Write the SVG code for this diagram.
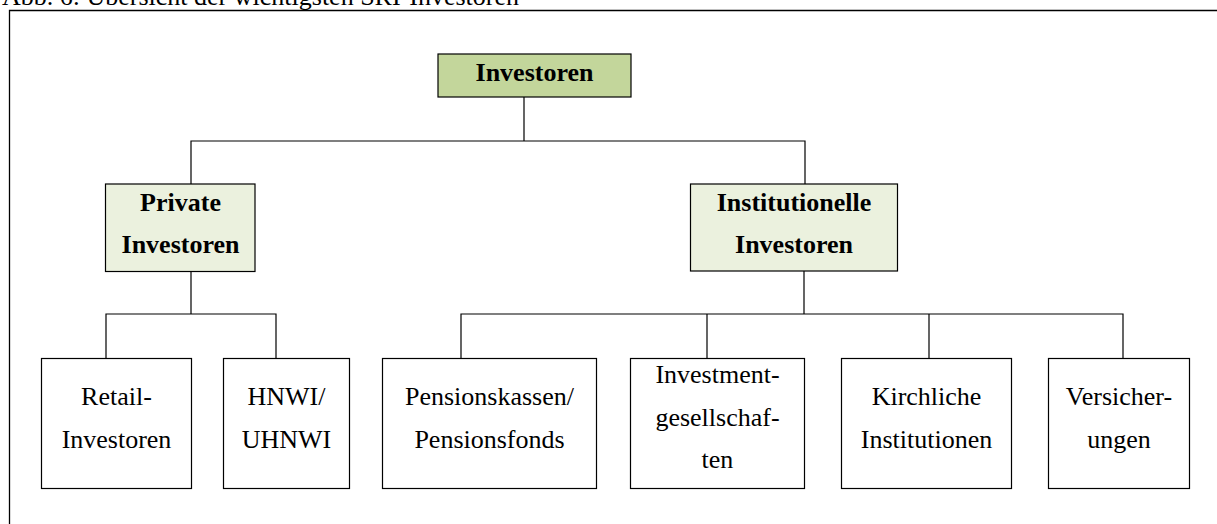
<svg xmlns="http://www.w3.org/2000/svg" width="1217" height="524" viewBox="0 0 1217 524">
<style>
.t{font-family:"Liberation Serif","Times New Roman",serif;font-size:26px;fill:#000;text-anchor:middle}
.b{font-weight:bold}
.box{fill:#fff;stroke:#000;stroke-width:1.2}
.l1{fill:#c3d69b;stroke:#000;stroke-width:1.2}
.l2{fill:#ebf1de;stroke:#000;stroke-width:1.2}
.c{fill:none;stroke:#000;stroke-width:1.2}
</style>
<rect width="1217" height="524" fill="#fff"/>
<text x="2" y="4.5" class="t" style="text-anchor:start">Abb. 6: Übersicht der wichtigsten SRI-Investoren</text>
<path d="M9.5 524 V10.5 H1217" fill="none" stroke="#000" stroke-width="1.3"/>
<g id="connectors">
<path class="c" d="M524 97 V141 M191 184 V141 H805 V184"/>
<path class="c" d="M191 272 V314 M106 358 V314 H276 V358"/>
<path class="c" d="M804 271 V314 M461 358 V314 H1123 V358 M707 314 V358 M929 314 V358"/>
</g>
<g id="n-investoren"><rect class="l1" x="438" y="54" width="193" height="43"/><text class="t b" x="534.5" y="81">Investoren</text></g>
<g id="n-private"><rect class="l2" x="105.5" y="184" width="149.5" height="87.5"/><text class="t b" x="180.5" y="211">Private</text><text class="t b" x="180.5" y="253">Investoren</text></g>
<g id="n-institutionelle"><rect class="l2" x="690.5" y="184" width="207" height="87"/><text class="t b" x="794" y="210.5">Institutionelle</text><text class="t b" x="794" y="253">Investoren</text></g>
<g id="n-retail"><rect class="box" x="41.5" y="358.5" width="150" height="130"/><text class="t" x="116.5" y="405">Retail-</text><text class="t" x="116.5" y="447.5">Investoren</text></g>
<g id="n-hnwi"><rect class="box" x="223.5" y="358.5" width="126" height="130"/><text class="t" x="286.5" y="405">HNWI/</text><text class="t" x="286.5" y="447.5">UHNWI</text></g>
<g id="n-pension"><rect class="box" x="382.5" y="358.5" width="214" height="130"/><text class="t" x="489.5" y="405">Pensionskassen/</text><text class="t" x="489.5" y="447.5">Pensionsfonds</text></g>
<g id="n-investment"><rect class="box" x="630.5" y="358.5" width="174" height="130"/><text class="t" x="717.5" y="383">Investment-</text><text class="t" x="717.5" y="425.5">gesellschaf-</text><text class="t" x="717.5" y="468">ten</text></g>
<g id="n-kirchliche"><rect class="box" x="841.5" y="358.5" width="170" height="130"/><text class="t" x="926.5" y="405">Kirchliche</text><text class="t" x="926.5" y="447.5">Institutionen</text></g>
<g id="n-versicherungen"><rect class="box" x="1048.5" y="358.5" width="141" height="130"/><text class="t" x="1119" y="405">Versicher-</text><text class="t" x="1119" y="447.5">ungen</text></g>
</svg>
